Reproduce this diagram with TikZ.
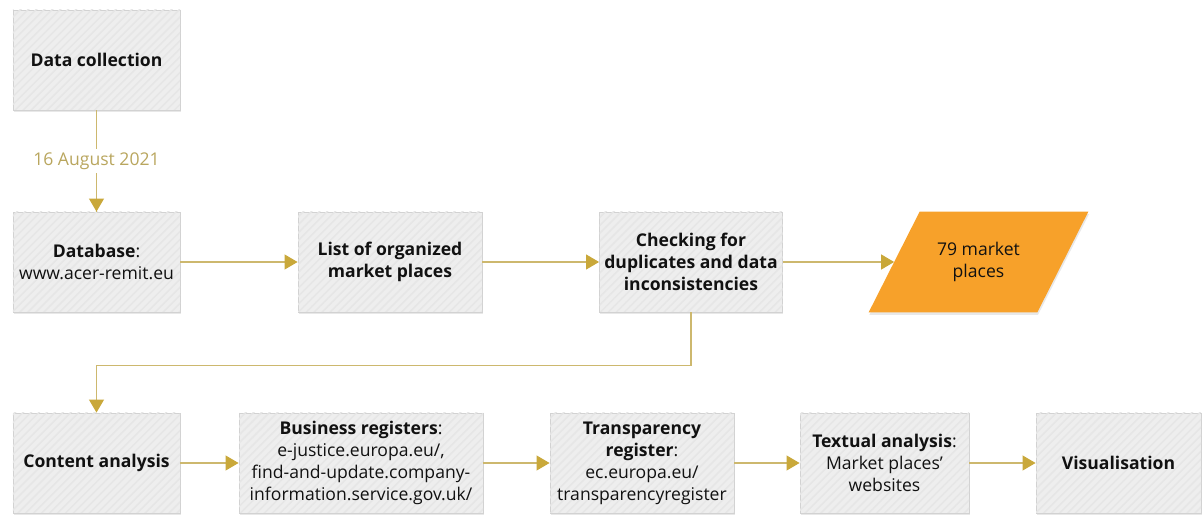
\documentclass[tikz,border=0pt]{standalone}
\usepackage{fontspec}
\setmainfont{Open Sans}
\usetikzlibrary{positioning,arrows.meta,shadows,patterns.meta,backgrounds}
\definecolor{ink}{HTML}{111111}
\definecolor{boxfill}{HTML}{EEEEEE}
\definecolor{boxline}{HTML}{D2D2D2}
\definecolor{hatch}{HTML}{E6E6E6}
\definecolor{flowc}{HTML}{CDB86E}
\definecolor{tipc}{HTML}{C9A83A}
\definecolor{datec}{HTML}{B9A65E}
\definecolor{result}{HTML}{F7A12A}

\begin{document}
\begin{tikzpicture}[
  font=\fontsize{10}{12.5}\selectfont,
  stage/.style={rectangle,fill=boxfill,draw=boxline,line width=0.5pt,
    minimum height=2cm,inner sep=2pt,align=center,text=ink,
    drop shadow={shadow xshift=0.4pt,shadow yshift=-1.4pt,opacity=0.18},
    postaction={pattern={Lines[angle=45,distance=3.2pt,line width=0.9pt]},pattern color=hatch}},
  flow/.style={flowc,line width=0.6pt,
    -{Triangle[length=2.6mm,width=3mm,color=tipc]}},
]
\useasboundingbox (0,0) rectangle (24.06,10.30);

%================================================================ TOP ROW ===
\node[stage,minimum width=3.34cm] (dc) at (1.93,9.10) {\textbf{Data collection}};
\node[stage,minimum width=3.34cm] (db) at (1.93,5.06)
  {\textbf{Database}:\\www.acer-remit.eu};
\node[stage,minimum width=3.68cm] (lst) at (7.80,5.06)
  {\textbf{List of organized}\\\textbf{market places}};
\node[stage,minimum width=3.66cm] (chk) at (13.82,5.06)
  {\textbf{Checking for}\\\textbf{duplicates and data}\\\textbf{inconsistencies}};

% result: slanted data box behind its label
\node[minimum width=3.36cm,minimum height=2cm,align=center,text=ink,inner sep=2pt]
  (mp) at (19.57,5.06) {79 market\\places};
\begin{scope}[on background layer]
  \fill[result,drop shadow={shadow xshift=0.4pt,shadow yshift=-1.4pt,opacity=0.18}]
    ([xshift=0.51cm]mp.north west) -- ([xshift=0.51cm]mp.north east) --
    ([xshift=-0.51cm]mp.south east) -- ([xshift=-0.51cm]mp.south west) -- cycle;
\end{scope}

% date of the download
\draw[flowc,line width=0.6pt] (dc.south) -- (db.north)
  node[pos=0.5,fill=white,text=datec,inner sep=2pt] (dt) {16 August 2021};
\draw[flow] (dt.south) -- (db.north);

\draw[flow] (db) -- (lst);
\draw[flow] (lst) -- (chk);
\draw[flow] (chk) -- (mp);

%============================================================= BOTTOM ROW ===
\node[stage,minimum width=3.34cm] (ca) at (1.93,1.04) {\textbf{Content analysis}};
\node[stage,minimum width=4.88cm] (br) at (7.22,1.04)
  {\textbf{Business registers}:\\e-justice.europa.eu/,\\find-and-update.company-\\information.service.gov.uk/};
\node[stage,minimum width=3.68cm] (tr) at (12.84,1.04)
  {\textbf{Transparency}\\\textbf{register}:\\ec.europa.eu/\\transparencyregister};
\node[stage,minimum width=3.38cm] (ta) at (17.69,1.04)
  {\textbf{Textual analysis}:\\Market places'\\websites};
\node[stage,minimum width=3.30cm] (vis) at (22.37,1.04) {\textbf{Visualisation}};

% back to the left for the second pass
\draw[flow] (chk.south) -- ++(0,-1.06) -| (ca.north);

\draw[flow] (ca) -- (br);
\draw[flow] (br) -- (tr);
\draw[flow] (tr) -- (ta);
\draw[flow] (ta) -- (vis);

\end{tikzpicture}
\end{document}
